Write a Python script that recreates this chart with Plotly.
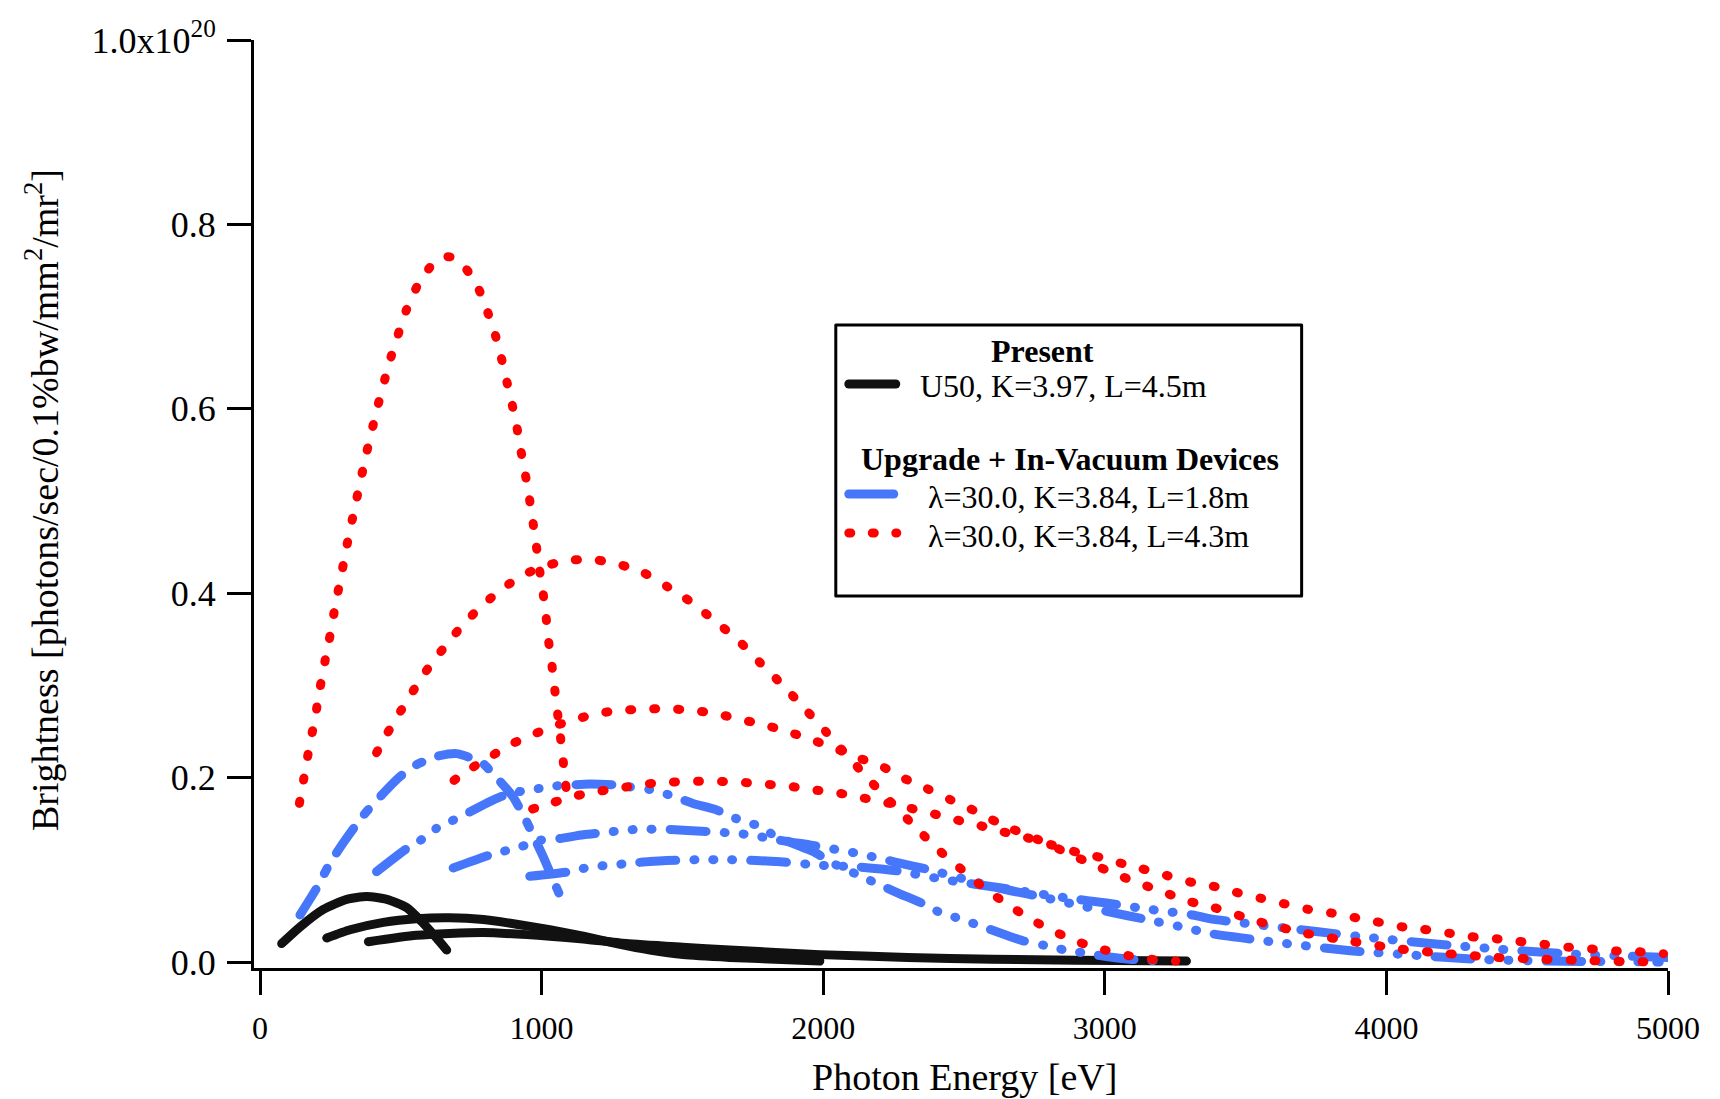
import plotly.graph_objects as go

# ---------------- data (photon energy [eV], brightness [1e20 units]) ----------------
# Present U50 (black, solid) - harmonics 1, 3, 5
b1_x = [77, 142, 225, 308, 379, 450, 521, 580, 627, 663]
b1_y = [0.020, 0.038, 0.057, 0.068, 0.071, 0.068, 0.059, 0.042, 0.026, 0.013]
b3_x = [237, 320, 438, 556, 674, 793, 911, 1029, 1148, 1266, 1385, 1503, 1668, 1830, 1988]
b3_y = [0.026, 0.035, 0.043, 0.047, 0.048, 0.046, 0.041, 0.035, 0.028, 0.020, 0.013, 0.008, 0.005, 0.003, 0.001]
b5_x = [385, 556, 793, 1029, 1148, 1300, 1500, 1668, 1988, 2300, 2600, 2900, 3290]
b5_y = [0.022, 0.029, 0.032, 0.028, 0.025, 0.020, 0.016, 0.013, 0.008, 0.005, 0.003, 0.002, 0.001]

# lambda=30.0, L=1.8m (blue) - harmonics 1, 3, 5, 7
u1_x = [142, 201, 248, 302, 367, 438, 497, 556, 627, 698, 769, 793, 852, 899, 947, 1006, 1041, 1083]
u1_y = [0.051, 0.080, 0.107, 0.132, 0.159, 0.183, 0.201, 0.214, 0.223, 0.226, 0.219, 0.215, 0.196, 0.179, 0.152, 0.114, 0.089, 0.060]
u3_x = [414, 521, 580, 627, 674, 734, 816, 887, 947, 1006, 1053, 1171, 1266, 1313, 1385, 1455, 1538, 1621, 1668,
        1775, 1822, 1905, 1964, 2035, 2120, 2213, 2272, 2349, 2420, 2485, 2568, 2651, 2710, 2787, 2858, 2923, 3006,
        3088, 3147, 3218]
u3_y = [0.098, 0.123, 0.134, 0.145, 0.152, 0.161, 0.174, 0.183, 0.186, 0.189, 0.191, 0.193, 0.192, 0.190, 0.187,
        0.181, 0.172, 0.165, 0.158, 0.147, 0.138, 0.127, 0.120, 0.107, 0.095, 0.082, 0.074, 0.064, 0.053, 0.047,
        0.038, 0.029, 0.023, 0.018, 0.013, 0.010, 0.006, 0.003, 0.002, 0.001]
u5_x = [686, 816, 876, 947, 994, 1065, 1148, 1242, 1290, 1361, 1444, 1503, 1668, 1739, 1810, 1887, 1952, 2118,
        2177, 2248, 2319, 2378, 2500, 2627, 2769, 2900, 3006, 3148, 3290, 3372, 3645, 3881, 4088, 4319, 4579, 4969]
u5_y = [0.102, 0.116, 0.121, 0.127, 0.132, 0.134, 0.138, 0.141, 0.143, 0.144, 0.144, 0.143, 0.140, 0.138, 0.134,
        0.130, 0.127, 0.118, 0.114, 0.109, 0.104, 0.100, 0.090, 0.080, 0.071, 0.062, 0.055, 0.046, 0.037, 0.031,
        0.020, 0.012, 0.0076, 0.003, 0.001, 0.0]
u7_x = [958, 1100, 1171, 1242, 1313, 1385, 1550, 1621, 1668, 1763, 1834, 1988, 2130, 2260, 2437, 2639, 2875, 3006,
        3136, 3313, 3372, 3751, 3958, 4195, 4396, 4639, 4840, 5000]
u7_y = [0.093, 0.098, 0.103, 0.105, 0.107, 0.109, 0.111, 0.111, 0.111, 0.110, 0.109, 0.105, 0.103, 0.099, 0.089,
        0.080, 0.069, 0.064, 0.058, 0.051, 0.047, 0.033, 0.026, 0.019, 0.014, 0.009, 0.0065, 0.005]

# lambda=30.0, L=4.3m (red, dotted) - harmonics 1, 3, 5, 7
r1_x = [140, 154, 168, 183, 199, 213, 228, 245, 260, 276, 292, 308, 343, 379, 420, 465, 521, 560, 619, 665, 702,
        766, 801, 831, 854, 873, 893, 911, 925, 941, 955, 968, 980, 991, 1004, 1015, 1023, 1035, 1045, 1055, 1065,
        1075, 1083, 1094]
r1_y = [0.172, 0.196, 0.221, 0.245, 0.271, 0.297, 0.322, 0.348, 0.374, 0.400, 0.425, 0.451, 0.502, 0.553, 0.605,
        0.656, 0.708, 0.734, 0.759, 0.765, 0.762, 0.737, 0.711, 0.685, 0.659, 0.634, 0.608, 0.582, 0.557, 0.531,
        0.506, 0.480, 0.454, 0.429, 0.403, 0.377, 0.352, 0.326, 0.300, 0.274, 0.249, 0.223, 0.199, 0.172]
r3_x = [414, 450, 489, 530, 570, 615, 669, 724, 787, 861, 943, 1029, 1112, 1195, 1278, 1363, 1447, 1533, 1615, 1698,
        1778, 1860, 1937, 2012, 2088, 2165, 2248, 2325, 2408, 2493, 2577, 2662, 2745, 2828, 2913, 3000, 3082, 3165,
        3252]
r3_y = [0.227, 0.247, 0.267, 0.287, 0.307, 0.326, 0.347, 0.367, 0.386, 0.405, 0.421, 0.431, 0.436, 0.436, 0.431,
        0.422, 0.407, 0.390, 0.370, 0.349, 0.324, 0.299, 0.274, 0.249, 0.223, 0.197, 0.171, 0.147, 0.122, 0.100,
        0.079, 0.061, 0.045, 0.032, 0.021, 0.013, 0.007, 0.003, 0.001]
r5_x = [689, 749, 811, 876, 949, 1027, 1106, 1192, 1274, 1359, 1441, 1526, 1609, 1694, 1778, 1864, 1949, 2033,
        2118, 2197, 2281, 2369, 2452, 2538, 2615, 2704, 2793, 2875, 2958, 3041, 3126, 3207, 3296, 3378, 3544, 3715,
        3884, 4051, 4219, 4388, 4556, 4724, 4893, 4975]
r5_y = [0.197, 0.210, 0.221, 0.234, 0.244, 0.254, 0.262, 0.269, 0.273, 0.274, 0.275, 0.273, 0.270, 0.264, 0.258,
        0.251, 0.242, 0.233, 0.222, 0.214, 0.200, 0.188, 0.176, 0.164, 0.152, 0.140, 0.129, 0.117, 0.106, 0.095,
        0.085, 0.076, 0.066, 0.060, 0.044, 0.031, 0.022, 0.014, 0.009, 0.005, 0.003, 0.0014, 0.0003, 0.0]
r7_x = [968, 1041, 1118, 1201, 1284, 1369, 1453, 1536, 1621, 1704, 1787, 1872, 1956, 2041, 2124, 2207, 2292, 2376,
        2461, 2544, 2627, 2710, 2790, 2875, 2964, 3047, 3133, 3218, 3301, 3387, 3473, 3556, 3639, 3724, 3808, 3891,
        3976, 4059, 4144, 4227, 4313, 4396, 4481, 4564, 4648, 4733, 4816, 4901, 4984]
r7_y = [0.166, 0.173, 0.180, 0.185, 0.189, 0.193, 0.195, 0.196, 0.196, 0.195, 0.193, 0.191, 0.187, 0.184, 0.179,
        0.174, 0.168, 0.162, 0.155, 0.149, 0.142, 0.136, 0.129, 0.121, 0.115, 0.108, 0.101, 0.094, 0.087, 0.082,
        0.075, 0.069, 0.063, 0.057, 0.053, 0.048, 0.043, 0.038, 0.035, 0.031, 0.027, 0.025, 0.022, 0.019, 0.016,
        0.014, 0.012, 0.011, 0.009]

x_ticks = [0, 1000, 2000, 3000, 4000, 5000]
y_ticks = [0.0, 0.2, 0.4, 0.6, 0.8, 1.0]
y_ticktext = ["0.0", "0.2", "0.4", "0.6", "0.8", "1.0x10<sup>20</sup>"]

legend_head1 = "Present"
legend_black = "U50, K=3.97, L=4.5m"
legend_head2 = "Upgrade + In-Vacuum Devices"
legend_blue = "λ=30.0, K=3.84, L=1.8m"
legend_red = "λ=30.0, K=3.84, L=4.3m"

# ---------------- styling ----------------
BLACK = "#111111"
BLUE = "#4677FA"
RED = "#FF0000"
FONT = "Liberation Serif, Times New Roman, serif"
LW = 9
DASH_DOT = "30px,18px,6px,18px"
DASH_3DOT = "36px,18px,1px,18px,1px,18px,1px,18px"
DOTS = "2px,22px"

W, H = 1720, 1099
PL, PR, PT, PB = 254, 1668.5, 40, 968  # plot area in pixels


def px2x(px):
    return (px - PL) / (PR - PL)


def py2y(py):
    return (PB - py) / (PB - PT)


fig = go.Figure()

for xs, ys in [(b1_x, b1_y), (b3_x, b3_y), (b5_x, b5_y)]:
    fig.add_trace(go.Scatter(x=xs, y=ys, mode="lines", line=dict(color=BLACK, width=LW, shape="spline", smoothing=0.6),
                             showlegend=False, hoverinfo="skip"))

for xs, ys, d in [(u1_x, u1_y, DASH_DOT), (u3_x, u3_y, DASH_3DOT), (u5_x, u5_y, DASH_3DOT), (u7_x, u7_y, DASH_3DOT)]:
    fig.add_trace(go.Scatter(x=xs, y=ys, mode="lines",
                             line=dict(color=BLUE, width=LW, dash=d, shape="spline", smoothing=0.6),
                             showlegend=False, hoverinfo="skip"))

for xs, ys in [(r1_x, r1_y), (r3_x, r3_y), (r5_x, r5_y), (r7_x, r7_y)]:
    fig.add_trace(go.Scatter(x=xs, y=ys, mode="lines",
                             line=dict(color=RED, width=LW, dash=DOTS, shape="spline", smoothing=0.6),
                             showlegend=False, hoverinfo="skip"))

# ---------------- legend (drawn manually) ----------------
shapes = [
    dict(type="rect", xref="paper", yref="paper", x0=px2x(836), x1=px2x(1302), y0=py2y(325), y1=py2y(596),
         line=dict(color="black", width=3), fillcolor="white", layer="above"),
    dict(type="line", xref="paper", yref="paper", x0=px2x(849), x1=px2x(896), y0=py2y(384), y1=py2y(384),
         line=dict(color=BLACK, width=LW)),
    dict(type="line", xref="paper", yref="paper", x0=px2x(849), x1=px2x(894), y0=py2y(494), y1=py2y(494),
         line=dict(color=BLUE, width=LW)),
    dict(type="line", xref="paper", yref="paper", x0=px2x(849), x1=px2x(897), y0=py2y(533), y1=py2y(533),
         line=dict(color=RED, width=LW, dash="2px,21.5px")),
]

ann = []


def add_text(text, px, py, xanchor="left", size=32, bold=False, angle=0):
    ann.append(dict(text=("<b>%s</b>" % text) if bold else text, xref="paper", yref="paper",
                    x=px2x(px), y=py2y(py), xanchor=xanchor, yanchor="middle", showarrow=False,
                    textangle=angle, font=dict(family=FONT, size=size, color="black")))


add_text(legend_head1, 1043, 351, xanchor="center", bold=True)
add_text(legend_black, 918, 386)
add_text(legend_head2, 1070, 459, xanchor="center", bold=True)
add_text(legend_blue, 926, 497)
add_text(legend_red, 926, 536)

# axis titles
add_text("Photon Energy [eV]", 965, 1077, xanchor="center", size=38)
add_text("Brightness [photons/sec/0.1%bw/mm<sup>2</sup>/mr<sup>2</sup>]", 42, 500, xanchor="center", size=38, angle=-90)

axis_common = dict(showline=True, linewidth=3, linecolor="black", ticks="outside", ticklen=24, tickwidth=3,
                   tickcolor="black", showgrid=False, zeroline=False)

fig.update_layout(
    width=W, height=H, autosize=False,
    margin=dict(l=PL, r=W - PR, t=PT, b=H - PB, pad=0),
    paper_bgcolor="white", plot_bgcolor="white",
    xaxis=dict(range=[-21.3, 5000], tickvals=x_ticks, ticktext=[str(v) for v in x_ticks],
               ticklabelstandoff=6, tickfont=dict(family=FONT, size=32, color="black"), **axis_common),
    yaxis=dict(range=[-0.0065, 1.0], tickvals=y_ticks, ticktext=y_ticktext, ticklabelstandoff=4,
               tickfont=dict(family=FONT, size=36, color="black"), **axis_common),
    shapes=shapes, annotations=ann, showlegend=False,
)

post_js = """
var gd = document.getElementById('{plot_id}');
function fixCaps(){
  gd.querySelectorAll('.scatterlayer .js-line, .shapelayer path').forEach(function(p){
    p.style.strokeLinecap = 'round'; p.style.strokeLinejoin = 'round';
  });
}
fixCaps();
setTimeout(fixCaps, 50);
if (gd.on) { gd.on('plotly_afterplot', fixCaps); }
"""

fig.write_html("out.html", post_script=post_js, config={"displayModeBar": False})
